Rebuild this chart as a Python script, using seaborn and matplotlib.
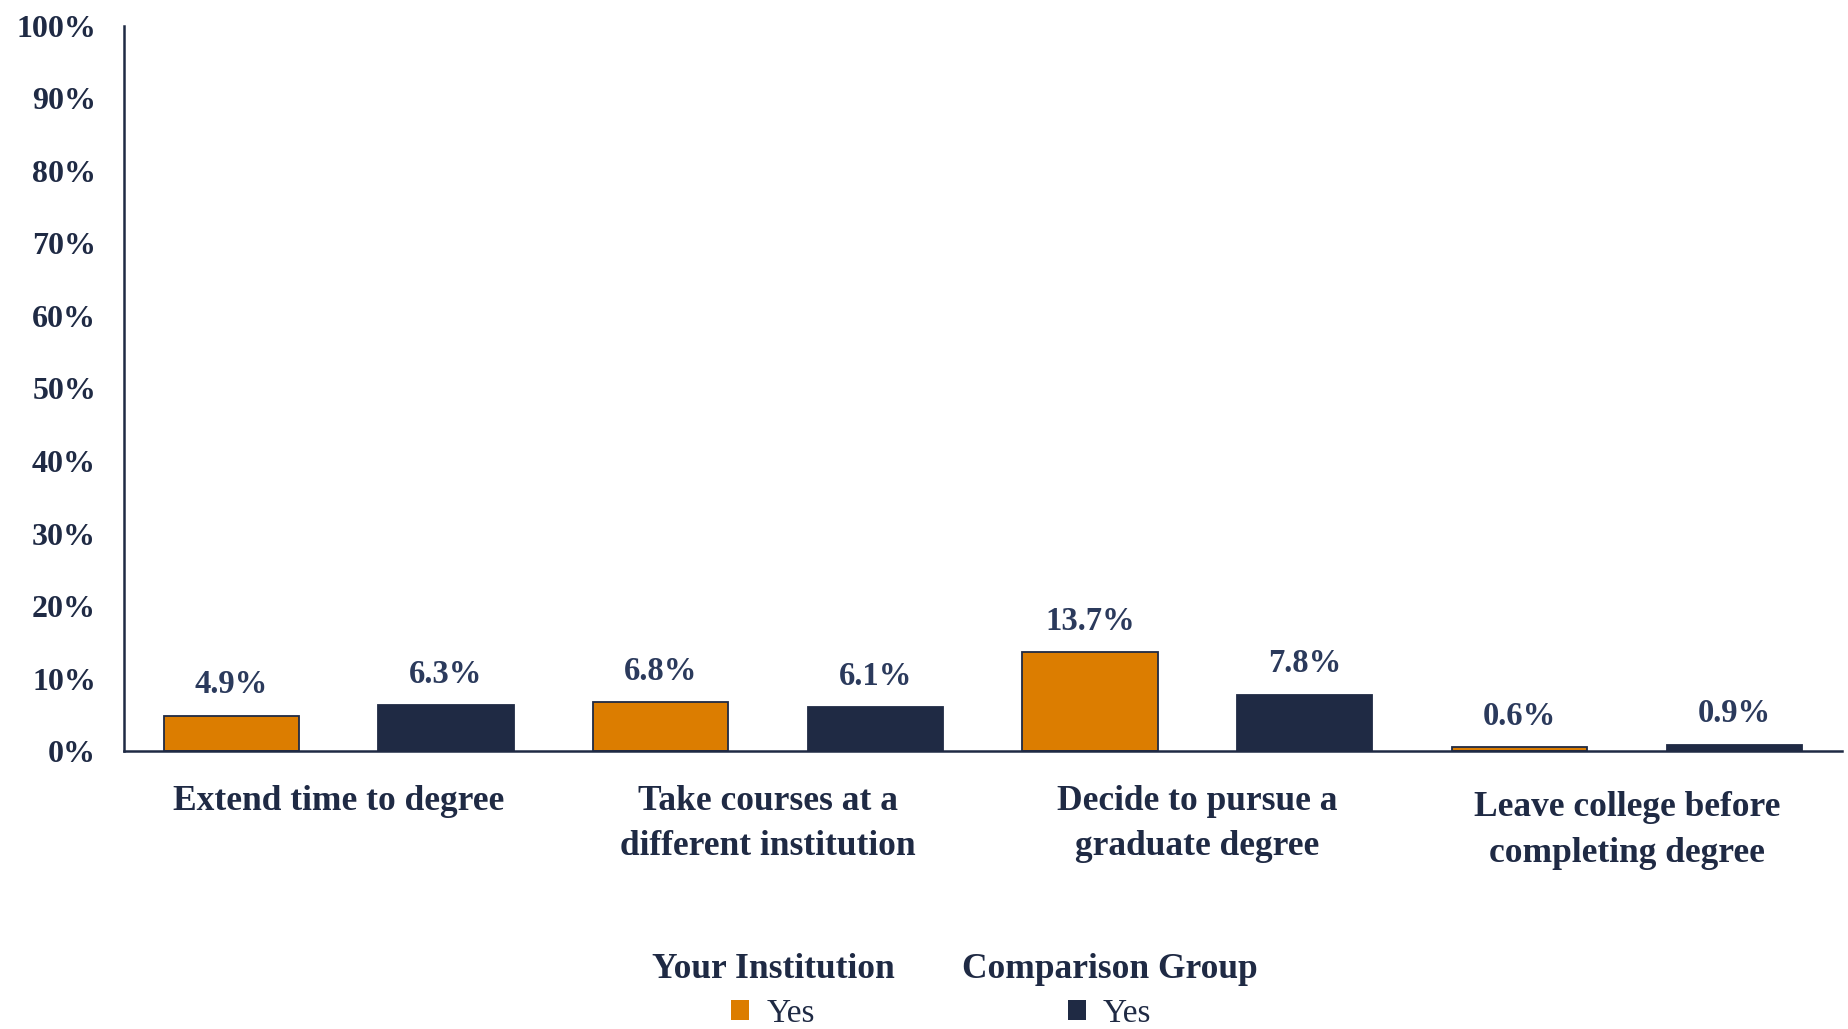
import matplotlib
matplotlib.use("Agg")
import matplotlib.pyplot as plt
from matplotlib.patches import Patch
from matplotlib.ticker import FuncFormatter, MultipleLocator
from matplotlib.transforms import ScaledTranslation
import pandas as pd
import seaborn as sns

# Survey items and the share of students answering "Yes"
categories = [
    "Extend time to degree",
    "Take courses at a\ndifferent institution",
    "Decide to pursue a\ngraduate degree",
    "Leave college before\ncompleting degree",
]
your_institution = [4.9, 6.8, 13.7, 0.6]
comparison_group = [6.3, 6.1, 7.8, 0.9]
group_names = ["Your Institution", "Comparison Group"]
response_label = "Yes"

ORANGE = "#DC7D00"
NAVY = "#1F2A44"
LABEL_NAVY = "#2B3A5C"
FONT = "Liberation Serif"

df = pd.DataFrame({
    "item": categories * 2,
    "pct": your_institution + comparison_group,
    "group": [group_names[0]] * len(categories) + [group_names[1]] * len(categories),
})

sns.set_theme(style="white")
plt.rcParams["font.family"] = [FONT, "DejaVu Serif"]

fig = plt.figure(figsize=(18.49, 10.29), dpi=100)
ax = fig.add_axes([0.067, 0.270, 0.929, 0.705])

sns.barplot(
    data=df, x="item", y="pct", hue="group",
    order=categories, hue_order=group_names,
    palette=[ORANGE, NAVY], saturation=1, width=1.0, gap=0.37,
    edgecolor=NAVY, linewidth=1.3, errorbar=None, ax=ax,
)
if ax.get_legend() is not None:
    ax.get_legend().remove()

ax.set_xlim(-0.5, len(categories) - 0.5)
ax.set_ylim(0, 100)
ax.yaxis.set_major_locator(MultipleLocator(10))
ax.yaxis.set_major_formatter(FuncFormatter(lambda v, _: f"{v:.0f}%"))
ax.set_xlabel("")
ax.set_ylabel("")

for side in ("top", "right"):
    ax.spines[side].set_visible(False)
for side in ("left", "bottom"):
    ax.spines[side].set_color(NAVY)
    ax.spines[side].set_linewidth(1.8)

ax.tick_params(axis="y", length=0, pad=20, labelsize=23, labelcolor=NAVY)
ax.tick_params(axis="x", length=0, pad=24, labelsize=25.5, labelcolor=NAVY)
for lbl in ax.get_yticklabels() + ax.get_xticklabels():
    lbl.set_fontweight("bold")
    lbl.set_linespacing(1.5)

# The last item's label sits slightly lower
last = ax.get_xticklabels()[-1]
last.set_transform(last.get_transform() + ScaledTranslation(0, -5 / 72, fig.dpi_scale_trans))

# Value labels above each bar
for container in ax.containers:
    for bar in container:
        h = bar.get_height()
        ax.annotate(
            f"{h:.1f}%",
            (bar.get_x() + bar.get_width() / 2, h),
            xytext=(0, 11), textcoords="offset points",
            ha="center", va="bottom", fontsize=23.5, fontweight="bold",
            color=LABEL_NAVY,
        )

# Two separate legends, one per group
for name, color, xpos in [(group_names[0], ORANGE, 0.418), (group_names[1], NAVY, 0.600)]:
    leg = fig.legend(
        handles=[Patch(facecolor=color, edgecolor="none", label=response_label)],
        title=name, loc="upper center", bbox_to_anchor=(xpos, 0.103),
        frameon=False, fontsize=24, title_fontsize=25.5,
        handlelength=0.55, handleheight=0.55, handletextpad=0.5,
        labelcolor=NAVY, labelspacing=0.38,
    )
    leg.get_title().set_fontweight("bold")
    leg.get_title().set_color(NAVY)

fig.savefig("out.png", dpi=100)
